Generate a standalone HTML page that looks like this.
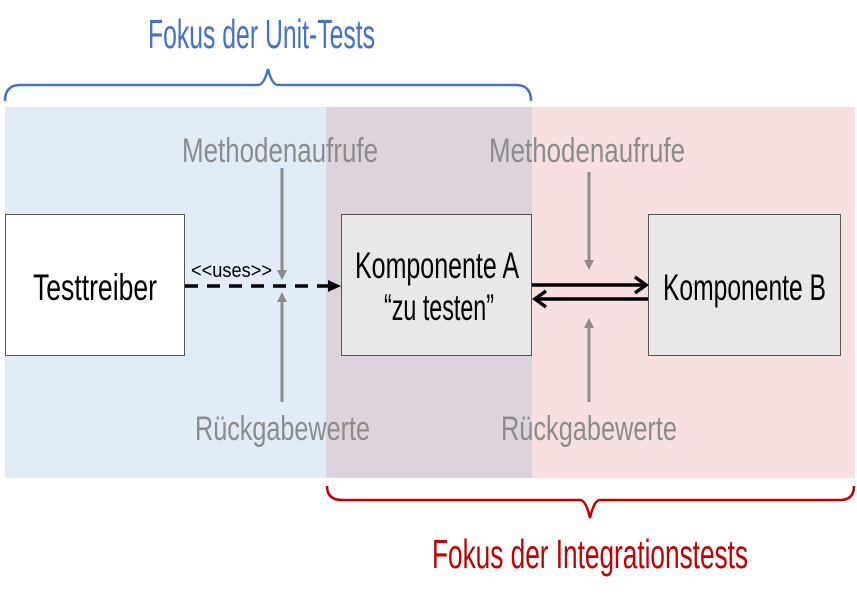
<!DOCTYPE html>
<html><head><meta charset="utf-8"><style>html,body{margin:0;padding:0;background:#fff;}svg{display:block}</style></head>
<body>
<svg width="857" height="612" viewBox="0 0 857 612" xmlns="http://www.w3.org/2000/svg" font-family="'Liberation Sans', sans-serif">
<rect x="0" y="0" width="857" height="612" fill="#fff"/>
<rect x="5" y="107" width="321" height="371" fill="#e1ecf7"/>
<rect x="326" y="107" width="206" height="371" fill="#ddd3dc"/>
<rect x="532" y="107" width="323" height="371" fill="#f8e0e1"/>
<path d="M5,101 Q5,85 20,85 L258,85 Q264,85 268,69 Q272,85 278,85 L516,85 Q531,85 531,101" fill="none" stroke="#4472c4" stroke-width="2.5"/>
<path d="M327,486 Q327,500 342,500 L580,500 Q586,500 590,518 Q594,500 600,500 L840,500 Q854,500 854,486" fill="none" stroke="#c00000" stroke-width="2.5"/>
<text x="148" y="48" font-size="41" fill="#4472c4" textLength="227" lengthAdjust="spacingAndGlyphs">Fokus der Unit-Tests</text>
<text x="432" y="568" font-size="41" fill="#c00000" textLength="316" lengthAdjust="spacingAndGlyphs">Fokus der Integrationstests</text>
<rect x="5.5" y="214.5" width="179" height="141" fill="#fff" stroke="#555" stroke-width="1"/>
<rect x="341.5" y="214.5" width="190" height="141" fill="#e8e8e8" stroke="#555" stroke-width="1"/>
<rect x="648.5" y="214.5" width="192" height="141" fill="#e8e8e8" stroke="#555" stroke-width="1"/>
<g fill="#000" font-size="37">
<text x="33" y="300" textLength="124" lengthAdjust="spacingAndGlyphs">Testtreiber</text>
<text x="355" y="278" textLength="164" lengthAdjust="spacingAndGlyphs">Komponente A</text>
<text x="384" y="320" textLength="110" lengthAdjust="spacingAndGlyphs">“zu testen”</text>
<text x="663" y="300" textLength="163" lengthAdjust="spacingAndGlyphs">Komponente B</text>
</g>
<g fill="#8c8c8c" font-size="34">
<text x="182" y="162" textLength="196" lengthAdjust="spacingAndGlyphs">Methodenaufrufe</text>
<text x="489" y="162" textLength="196" lengthAdjust="spacingAndGlyphs">Methodenaufrufe</text>
<text x="195" y="440" textLength="175" lengthAdjust="spacingAndGlyphs">Rückgabewerte</text>
<text x="501" y="440" textLength="176" lengthAdjust="spacingAndGlyphs">Rückgabewerte</text>
</g>
<g stroke="#8c8c8c" stroke-width="3" fill="none">
<line x1="282" y1="168" x2="282" y2="272"/>
<line x1="282" y1="402" x2="282" y2="300"/>
<line x1="589" y1="172" x2="589" y2="262"/>
<line x1="589" y1="402" x2="589" y2="326"/>
</g>
<g fill="#8c8c8c">
<polygon points="277,270 287,270 282,280"/>
<polygon points="277,302 287,302 282,292"/>
<polygon points="584,260 594,260 589,270"/>
<polygon points="584,328 594,328 589,318"/>
</g>
<text x="191" y="277" font-size="20" fill="#000" textLength="81" lengthAdjust="spacingAndGlyphs">&lt;&lt;uses&gt;&gt;</text>
<line x1="185" y1="286" x2="330" y2="286" stroke="#000" stroke-width="3.5" stroke-dasharray="13,9"/>
<polygon points="328,280 341,286 328,292" fill="#000"/>
<g stroke="#000" stroke-width="3.5" fill="none">
<line x1="532" y1="285" x2="645" y2="285"/>
<polyline points="635,277 646,285 635,293"/>
<line x1="537" y1="299" x2="648" y2="299"/>
<polyline points="546,291 535,299 546,307"/>
</g>
</svg>
</body></html>
